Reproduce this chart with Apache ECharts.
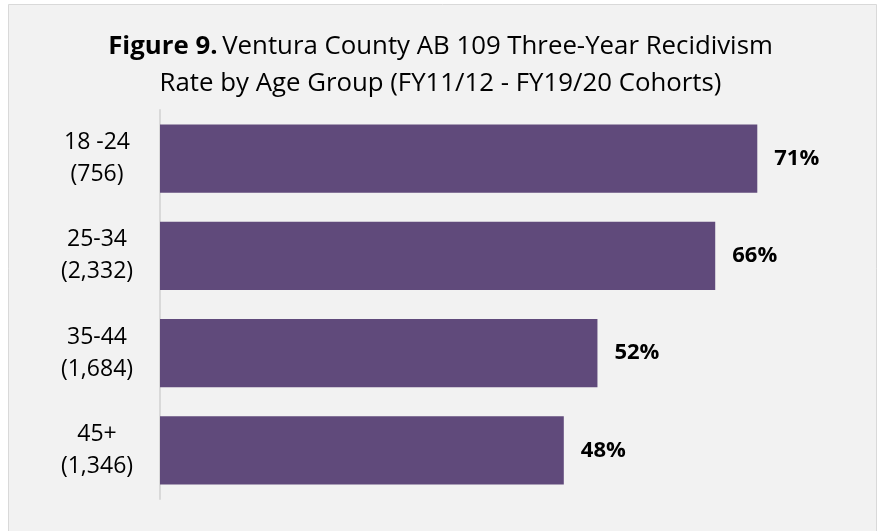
<!DOCTYPE html>
<html>
<head>
<meta charset="utf-8">
<script src="https://cdn.jsdelivr.net/npm/echarts@6/dist/echarts.min.js"></script>
<style>
html, body { margin: 0; padding: 0; background: #ffffff; }
#main { width: 881px; height: 531px; }
</style>
</head>
<body>
<div id="main"></div>
<script>
// age groups, with cohort size shown under each
var ageGroups = ['18 -24', '25-34', '35-44', '45+'];
var cohortSizes = ['756', '2,332', '1,684', '1,346'];
var rates = [71, 66, 52, 48];

var FONT = '"Open Sans", "Noto Sans", sans-serif';

var myChart = echarts.init(document.getElementById('main'));

var option = {
	animation: false,
	textStyle: { fontFamily: FONT },
	graphic: [{
		type: 'rect',
		z: -10,
		silent: true,
		shape: { x: 8.5, y: 4.5, width: 868, height: 560 },
		style: { fill: '#f2f2f2', stroke: '#d9d9d9', lineWidth: 1 }
	}],
	title: {
		left: 'center',
		top: 23,
		text: '{b|Figure 9.} {n|Ventura County AB 109 Three-Year Recidivism}\n{n|Rate by Age Group (FY11/12 - FY19/20 Cohorts)}',
		textStyle: {
			rich: {
				b: { fontFamily: FONT, fontSize: 25.8, fontWeight: 'bold', color: '#000', lineHeight: 37 },
				n: { fontFamily: FONT, fontSize: 25.8, fontWeight: 'normal', color: '#000', lineHeight: 37 }
			}
		}
	},
	grid: {
		left: 160,
		right: 48,
		top: 110,
		bottom: 32,
		containLabel: false
	},
	xAxis: {
		type: 'value',
		min: 0,
		max: 80,
		show: false
	},
	yAxis: {
		type: 'category',
		inverse: true,
		data: ageGroups.map(function(a, i) {
			return a + '\n(' + cohortSizes[i] + ')';
		}),
		axisLine: { show: true, lineStyle: { color: '#d9d9d9', width: 2 } },
		axisTick: { show: false },
		axisLabel: {
			align: 'center',
			margin: 63,
			color: '#000',
			fontFamily: FONT,
			fontSize: 23,
			lineHeight: 32
		}
	},
	series: [{
		type: 'bar',
		data: rates,
		barCategoryGap: '30%',
		itemStyle: { color: '#604a7b' },
		label: {
			show: true,
			position: 'right',
			distance: 17,
			color: '#000',
			fontFamily: FONT,
			fontSize: 22,
			fontWeight: 'bold',
			formatter: '{c}%'
		}
	}]
};
myChart.setOption(option);
</script>
</body>
</html>
